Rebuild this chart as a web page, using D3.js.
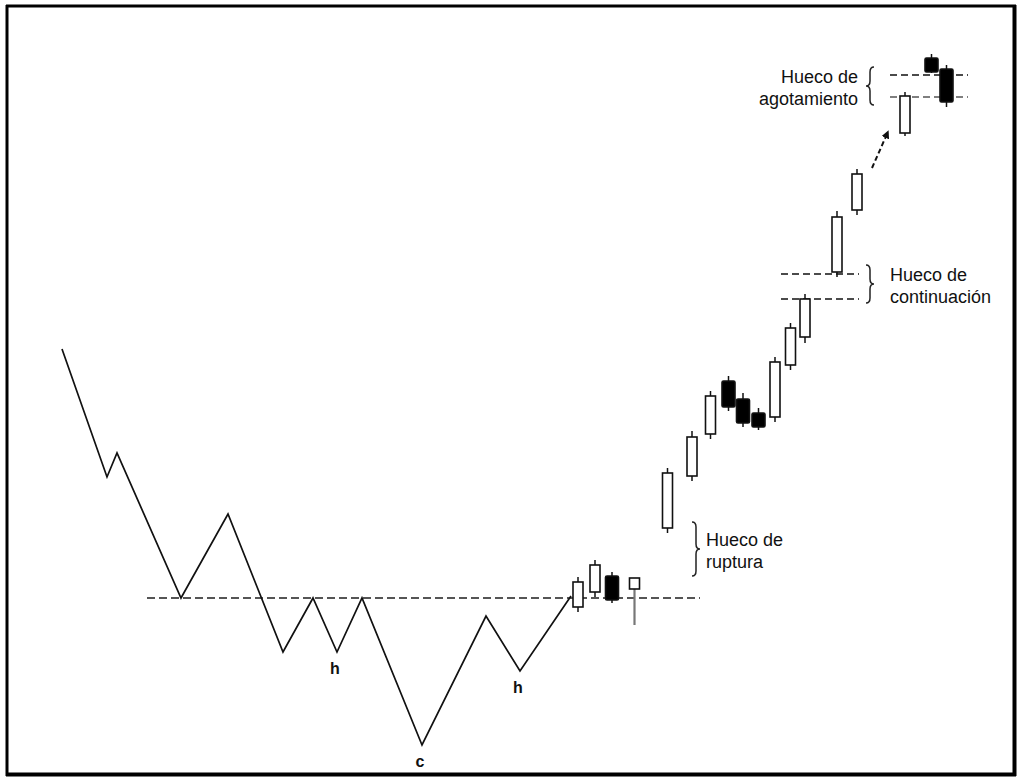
<!DOCTYPE html>
<html>
<head>
<meta charset="utf-8">
<script src="https://cdn.jsdelivr.net/npm/d3@7"></script>
<style>
  body { margin: 0; background: #fff; }
  svg { display: block; }
  text { font-family: "Liberation Sans", Arial, sans-serif; fill: #111; }
  .lbl { font-size: 18px; }
  .pt { font-size: 16px; font-weight: bold; }
</style>
</head>
<body>
<svg id="chart" width="1017" height="780"></svg>
<script>
// zigzag price path before the breakout: [t, price]
var pathT = [0.2, 4.7, 5.7, 12.1, 16.8, 22.3, 25.3, 27.7, 30.2, 36.2, 42.6, 46.0, 51.1];
var pathP = [39.6, 26.8, 29.2, 14.7, 23.1, 9.3, 14.7, 9.3, 14.7, 0, 12.9, 7.4, 14.9];

// candles after the breakout
var candleT = [51.8, 53.5, 55.2, 57.45, 60.75, 63.2, 65.05, 66.85, 68.3, 69.85, 71.5, 73.05, 74.5, 77.7, 79.7, 84.5, 87.15, 88.65];
var opens  = [13.8, 15.3, 16.9, 15.6, 21.7, 26.9, 31.1, 36.4, 34.6, 33.2, 32.8, 38.0, 40.8, 47.3, 53.5, 61.2, 68.7, 67.6];
var closes = [16.3, 18.0, 14.5, 16.7, 27.2, 30.8, 34.9, 33.8, 32.2, 31.8, 38.3, 41.7, 44.6, 52.8, 57.1, 64.9, 67.3, 64.3];
var highs  = [16.8, 18.5, 17.3, 16.7, 27.7, 31.4, 35.4, 36.9, 35.2, 33.7, 38.8, 42.2, 45.1, 53.4, 57.6, 65.3, 69.1, 68.0];
var lows   = [13.3, 14.8, 14.2, 12.0, 21.2, 26.4, 30.6, 33.4, 31.8, 31.5, 32.3, 37.5, 40.2, 46.8, 53.0, 60.9, 67.2, 63.8];

// neckline and gap levels
var neckline = { level: 14.7, from: 8.7, to: 64.0 };
var gapLines = [
  { level: 47.1, from: 72.1, to: 79.9, color: '#111' },
  { level: 44.6, from: 72.1, to: 79.9, color: '#111' },
  { level: 67.0, from: 83.0, to: 90.8, color: '#111' },
  { level: 64.8, from: 83.0, to: 90.8, color: '#555' }
];

// point labels under the pattern
var pointLabels = ['h', 'c', 'h'];
var pointIdx = [7, 9, 11];

// gap annotations
var gapNames = [['Hueco de', 'ruptura'], ['Hueco de', 'continuación'], ['Hueco de', 'agotamiento']];
var gapTop = [22.3, 48.0, 67.8];
var gapBottom = [16.9, 44.2, 64.0];
var braceT = [63.2, 80.6, 81.4];
var braceDir = [1, 1, -1];

var svg = d3.select('#chart');
var x = d3.scaleLinear().domain([0, 94]).range([60, 1000]);
var y = d3.scaleLinear().domain([0, 70]).range([745, 45]);

/* frame */
var frame = svg.append('g').attr('stroke', '#000').attr('fill', 'none');
frame.append('line').attr('x1', 6).attr('x2', 1016).attr('y1', 6).attr('y2', 6).attr('stroke-width', 3);
frame.append('line').attr('x1', 7).attr('x2', 7).attr('y1', 5).attr('y2', 776).attr('stroke-width', 3);
frame.append('line').attr('x1', 1014.5).attr('x2', 1014.5).attr('y1', 5).attr('y2', 776).attr('stroke-width', 4);
frame.append('line').attr('x1', 6).attr('x2', 1016).attr('y1', 774.5).attr('y2', 774.5).attr('stroke-width', 4);

/* neckline */
svg.append('line')
  .attr('x1', x(neckline.from)).attr('x2', x(neckline.to))
  .attr('y1', y(neckline.level)).attr('y2', y(neckline.level))
  .attr('stroke', '#555').attr('stroke-width', 2).attr('stroke-dasharray', '8,4');

/* zigzag */
var pts = pathT.map(function(t, i){ return [t, pathP[i]]; });
svg.append('path')
  .attr('d', d3.line().x(function(d){ return x(d[0]); }).y(function(d){ return y(d[1]); })(pts))
  .attr('fill', 'none').attr('stroke', '#111').attr('stroke-width', 1.7)
  .attr('stroke-linejoin', 'miter');

/* h c h */
svg.selectAll('.pt').data(pointIdx).enter().append('text')
  .attr('class', 'pt')
  .attr('x', function(d){ return x(pathT[d]) - 2; })
  .attr('y', function(d){ return y(pathP[d]) + 22; })
  .attr('text-anchor', 'middle')
  .text(function(d, i){ return pointLabels[i]; });

/* gap lines */
svg.selectAll('.gap').data(gapLines).enter().append('line')
  .attr('class', 'gap')
  .attr('x1', function(d){ return x(d.from); }).attr('x2', function(d){ return x(d.to); })
  .attr('y1', function(d){ return y(d.level); }).attr('y2', function(d){ return y(d.level); })
  .attr('stroke', function(d){ return d.color; })
  .attr('stroke-width', 1.6).attr('stroke-dasharray', '7,4');

/* candles */
var candles = candleT.map(function(t, i){
  return { t: t, o: opens[i], c: closes[i], h: highs[i], l: lows[i] };
});
function isSpike(d){ return d.h === Math.max(d.o, d.c) && d.l < Math.min(d.o, d.c) - 2; }
var cg = svg.selectAll('.candle').data(candles).enter().append('g').attr('class', 'candle');
cg.append('line')
  .attr('x1', function(d){ return x(d.t); }).attr('x2', function(d){ return x(d.t); })
  .attr('y1', function(d){ return y(d.h); }).attr('y2', function(d){ return y(d.l); })
  .attr('stroke', function(d){ return isSpike(d) ? '#777' : '#111'; })
  .attr('stroke-width', function(d){ return isSpike(d) ? 2.2 : 1.5; });
cg.append('rect')
  .attr('x', function(d){ var w = d.c < d.o ? 13 : 10; return x(d.t) - w / 2; })
  .attr('width', function(d){ return d.c < d.o ? 13 : 10; })
  .attr('y', function(d){ return y(Math.max(d.o, d.c)); })
  .attr('height', function(d){ return Math.abs(y(d.o) - y(d.c)); })
  .attr('rx', function(d){ return d.c < d.o ? 1.5 : 0; })
  .attr('fill', function(d){ return d.c < d.o ? '#000' : '#fff'; })
  .attr('stroke', '#111').attr('stroke-width', 1.6);

/* braces */
function brace(xp, y1, y2, dir){
  var w = 8, r = 5, ym = (y1 + y2) / 2, xm = xp + dir * w / 2, xe = xp + dir * w;
  return 'M' + xp + ',' + y1 +
    ' Q' + xm + ',' + y1 + ' ' + xm + ',' + (y1 + r) +
    ' L' + xm + ',' + (ym - r) +
    ' Q' + xm + ',' + ym + ' ' + xe + ',' + ym +
    ' Q' + xm + ',' + ym + ' ' + xm + ',' + (ym + r) +
    ' L' + xm + ',' + (y2 - r) +
    ' Q' + xm + ',' + y2 + ' ' + xp + ',' + y2;
}
var textGap = [14, 24, 16];
gapNames.forEach(function(name, i){
  var bx = x(braceT[i]), y1 = y(gapTop[i]), y2 = y(gapBottom[i]);
  svg.append('path').attr('d', brace(bx, y1, y2, braceDir[i]))
    .attr('fill', 'none').attr('stroke', '#222').attr('stroke-width', 1.5);
  var ym = (y1 + y2) / 2;
  var tx = bx + braceDir[i] * textGap[i];
  var t = svg.append('text').attr('class', 'lbl')
    .attr('x', tx).attr('y', ym - 3)
    .attr('text-anchor', braceDir[i] > 0 ? 'start' : 'end');
  t.append('tspan').attr('x', tx).attr('dy', 0).text(name[0]);
  t.append('tspan').attr('x', tx).attr('dy', 22).text(name[1]);
});

/* arrow toward the exhaustion gap */
svg.append('defs').append('marker')
  .attr('id', 'head').attr('viewBox', '0 0 10 10').attr('refX', 5).attr('refY', 5)
  .attr('markerWidth', 4).attr('markerHeight', 4).attr('orient', 'auto')
  .append('path').attr('d', 'M0,0 L10,5 L0,10 z').attr('fill', '#111');
svg.append('line')
  .attr('x1', x(81.2)).attr('y1', y(57.7)).attr('x2', x(82.7)).attr('y2', y(61.1))
  .attr('stroke', '#111').attr('stroke-width', 2).attr('stroke-dasharray', '5,3')
  .attr('marker-end', 'url(#head)');
</script>
</body>
</html>
